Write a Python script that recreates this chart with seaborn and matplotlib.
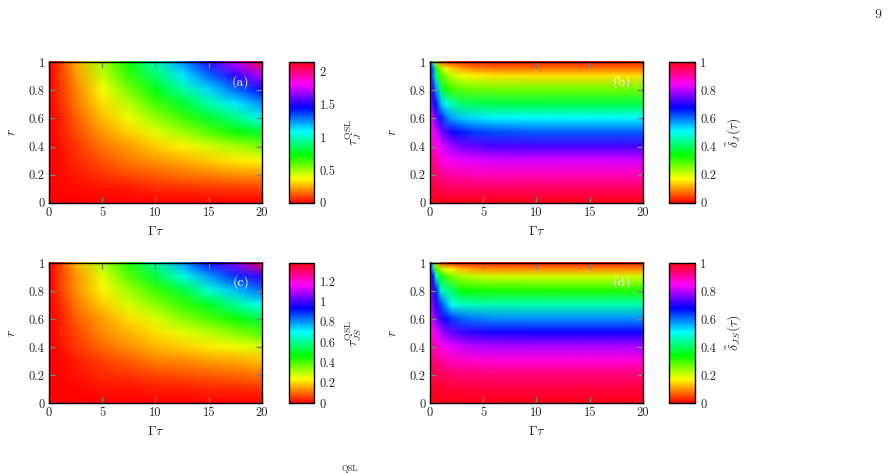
import numpy as np
import matplotlib
matplotlib.use('Agg')
import matplotlib.pyplot as plt
from matplotlib.image import NonUniformImage
import seaborn as sns

sns.set_theme(style='ticks')
plt.rcParams['font.family'] = ['cmr10', 'DejaVu Serif']
plt.rcParams['mathtext.fontset'] = 'cm'
plt.rcParams['axes.formatter.use_mathtext'] = True

# grids (Gamma*tau along x, r along y)
gt_ac = [0, 1, 2.5, 5, 7.5, 10, 12.5, 15, 17.5, 20]
r_ac = [0, 0.1, 0.2, 0.3, 0.4, 0.5, 0.6, 0.7, 0.8, 0.9, 1.0]

# panel (a): tau_J^QSL, rows = r from 0 to 1
tau_J = [
    [0, 0.00, 0.00, 0.00, 0.00, 0.00, 0.00, 0.00, 0.00, 0.00],
    [0, 0.01, 0.02, 0.03, 0.04, 0.06, 0.07, 0.08, 0.09, 0.10],
    [0, 0.02, 0.04, 0.08, 0.11, 0.14, 0.17, 0.19, 0.21, 0.22],
    [0, 0.02, 0.06, 0.12, 0.18, 0.22, 0.26, 0.30, 0.34, 0.37],
    [0, 0.03, 0.08, 0.17, 0.23, 0.30, 0.36, 0.43, 0.49, 0.56],
    [0, 0.05, 0.11, 0.22, 0.31, 0.41, 0.51, 0.61, 0.72, 0.80],
    [0, 0.05, 0.14, 0.27, 0.39, 0.52, 0.64, 0.79, 0.92, 1.08],
    [0, 0.07, 0.17, 0.32, 0.47, 0.63, 0.79, 0.97, 1.12, 1.25],
    [0, 0.08, 0.19, 0.38, 0.56, 0.75, 0.96, 1.15, 1.31, 1.46],
    [0, 0.09, 0.22, 0.45, 0.66, 0.89, 1.12, 1.31, 1.52, 1.72],
    [0, 0.10, 0.25, 0.49, 0.74, 1.00, 1.25, 1.51, 1.76, 2.10],
]

# panel (c): tau_JS^QSL
tau_JS = [
    [0, 0.00, 0.00, 0.00, 0.00, 0.00, 0.00, 0.00, 0.00, 0.00],
    [0, 0.00, 0.01, 0.02, 0.02, 0.03, 0.03, 0.04, 0.04, 0.05],
    [0, 0.01, 0.02, 0.04, 0.05, 0.07, 0.08, 0.09, 0.10, 0.11],
    [0, 0.01, 0.03, 0.06, 0.09, 0.12, 0.13, 0.15, 0.16, 0.18],
    [0, 0.02, 0.05, 0.10, 0.14, 0.17, 0.19, 0.22, 0.25, 0.27],
    [0, 0.03, 0.07, 0.13, 0.17, 0.21, 0.26, 0.30, 0.35, 0.40],
    [0, 0.03, 0.09, 0.15, 0.21, 0.27, 0.34, 0.40, 0.46, 0.54],
    [0, 0.04, 0.11, 0.19, 0.27, 0.34, 0.42, 0.50, 0.61, 0.70],
    [0, 0.06, 0.13, 0.23, 0.32, 0.41, 0.52, 0.66, 0.76, 0.84],
    [0, 0.06, 0.14, 0.26, 0.39, 0.52, 0.67, 0.79, 0.89, 0.99],
    [0, 0.06, 0.17, 0.31, 0.45, 0.63, 0.79, 0.94, 1.07, 1.33],
]

gt_bd = [0, 0.25, 0.5, 1, 1.5, 2, 3, 4, 6, 10, 20]
r_bd = [0, 0.1, 0.2, 0.3, 0.4, 0.5, 0.6, 0.7, 0.8, 0.9, 0.95, 1.0]

# panel (b): delta_J(tau)
delta_J = [
    [1.00, 1.00, 1.00, 1.00, 1.00, 1.00, 1.00, 1.00, 1.00, 1.00, 1.00],
    [0.98, 0.98, 0.97, 0.96, 0.955, 0.95, 0.95, 0.95, 0.95, 0.95, 0.95],
    [0.96, 0.95, 0.94, 0.92, 0.91, 0.90, 0.895, 0.89, 0.89, 0.89, 0.89],
    [0.93, 0.92, 0.90, 0.87, 0.85, 0.84, 0.83, 0.825, 0.82, 0.82, 0.82],
    [0.90, 0.88, 0.86, 0.83, 0.80, 0.78, 0.75, 0.74, 0.725, 0.72, 0.72],
    [0.87, 0.85, 0.82, 0.76, 0.72, 0.69, 0.66, 0.64, 0.625, 0.615, 0.615],
    [0.83, 0.80, 0.74, 0.66, 0.60, 0.57, 0.54, 0.53, 0.515, 0.51, 0.51],
    [0.79, 0.72, 0.67, 0.55, 0.49, 0.45, 0.41, 0.395, 0.387, 0.385, 0.385],
    [0.76, 0.70, 0.58, 0.42, 0.325, 0.30, 0.28, 0.27, 0.267, 0.267, 0.267],
    [0.74, 0.60, 0.42, 0.30, 0.24, 0.21, 0.18, 0.167, 0.155, 0.15, 0.15],
    [0.73, 0.60, 0.35, 0.22, 0.17, 0.14, 0.11, 0.09, 0.08, 0.08, 0.08],
    [0.72, 0.50, 0.16, 0.07, 0.05, 0.04, 0.03, 0.02, 0.02, 0.02, 0.02],
]

# panel (d): delta_JS(tau)
delta_JS = [
    [1.00, 1.00, 1.00, 1.00, 1.00, 1.00, 1.00, 1.00, 1.00, 1.00, 1.00],
    [0.99, 0.99, 0.985, 0.98, 0.98, 0.975, 0.975, 0.97, 0.97, 0.97, 0.97],
    [0.97, 0.965, 0.96, 0.955, 0.95, 0.945, 0.94, 0.94, 0.935, 0.935, 0.935],
    [0.94, 0.935, 0.925, 0.91, 0.90, 0.89, 0.88, 0.875, 0.87, 0.87, 0.87],
    [0.91, 0.90, 0.88, 0.86, 0.84, 0.825, 0.81, 0.80, 0.795, 0.79, 0.79],
    [0.88, 0.86, 0.83, 0.79, 0.76, 0.74, 0.715, 0.705, 0.695, 0.69, 0.69],
    [0.85, 0.80, 0.76, 0.71, 0.67, 0.64, 0.61, 0.595, 0.585, 0.58, 0.58],
    [0.80, 0.76, 0.71, 0.63, 0.56, 0.495, 0.47, 0.46, 0.455, 0.45, 0.45],
    [0.78, 0.72, 0.67, 0.48, 0.44, 0.40, 0.335, 0.328, 0.322, 0.32, 0.32],
    [0.76, 0.67, 0.46, 0.36, 0.29, 0.26, 0.23, 0.215, 0.20, 0.20, 0.20],
    [0.74, 0.55, 0.31, 0.22, 0.19, 0.167, 0.13, 0.11, 0.10, 0.10, 0.10],
    [0.72, 0.45, 0.15, 0.06, 0.04, 0.03, 0.02, 0.02, 0.02, 0.02, 0.02],
]

x_ticks = [0, 5, 10, 15, 20]
y_ticks = [0, 0.2, 0.4, 0.6, 0.8, 1]
y_ticklabels = ['0', '0.2', '0.4', '0.6', '0.8', '1']

cmap = sns.color_palette('hsv', as_cmap=True)
tick_col = '#808080'

panels = [
    # x grid, r grid, values, vmax, cbar ticks, cbar labels, cbar title, tag, axes rect, cbar x
    (gt_ac, r_ac, tau_J, 2.15, [0, 0.5, 1, 1.5, 2], ['0', '0.5', '1', '1.5', '2'],
     r'$\tau_J^{\rm QSL}$', '(a)', [0.0547, 0.571, 0.238, 0.298], 0.3229),
    (gt_bd, r_bd, delta_J, 1.0, [0, 0.2, 0.4, 0.6, 0.8, 1], ['0', '0.2', '0.4', '0.6', '0.8', '1'],
     r'$\tilde{\delta}_J(\tau)$', '(b)', [0.4804, 0.571, 0.238, 0.298], 0.7480),
    (gt_ac, r_ac, tau_JS, 1.38, [0, 0.2, 0.4, 0.6, 0.8, 1, 1.2], ['0', '0.2', '0.4', '0.6', '0.8', '1', '1.2'],
     r'$\tau_{JS}^{\rm QSL}$', '(c)', [0.0547, 0.148, 0.238, 0.296], 0.3229),
    (gt_bd, r_bd, delta_JS, 1.0, [0, 0.2, 0.4, 0.6, 0.8, 1], ['0', '0.2', '0.4', '0.6', '0.8', '1'],
     r'$\tilde{\delta}_{JS}(\tau)$', '(d)', [0.4804, 0.148, 0.238, 0.296], 0.7480),
]

fig = plt.figure(figsize=(8.95, 4.73), dpi=100)

for gx, gr, vals, vmax, cticks, clabels, clab, tag, rect, cx in panels:
    ax = fig.add_axes(rect)
    im = NonUniformImage(ax, interpolation='bilinear', extent=(0, 20, 0, 1), cmap=cmap)
    im.set_data(np.array(gx, dtype=float), np.array(gr, dtype=float), np.array(vals, dtype=float))
    im.set_clim(0, vmax)
    ax.add_image(im)
    ax.set_xlim(0, 20)
    ax.set_ylim(0, 1)
    ax.set_xticks(x_ticks)
    ax.set_xticklabels([str(t) for t in x_ticks])
    ax.set_yticks(y_ticks)
    ax.set_yticklabels(y_ticklabels)
    ax.tick_params(direction='in', top=True, right=True, color=tick_col,
                   length=4, width=1, labelsize=9, pad=3)
    for sp in ax.spines.values():
        sp.set_color('black')
        sp.set_linewidth(1)
    ax.set_xlabel(r'$\Gamma\tau$', fontsize=10, labelpad=4)
    ax.set_ylabel(r'$r$', fontsize=10, labelpad=8)
    ax.text(18.0, 0.86, tag, color='white', fontsize=10, ha='center', va='center')

    cax = fig.add_axes([cx, rect[1], 0.028, rect[3]])
    cb = fig.colorbar(im, cax=cax)
    cb.set_ticks(cticks)
    cb.set_ticklabels(clabels)
    cax.tick_params(direction='in', left=True, right=True, color=tick_col,
                    length=4, width=1, labelsize=9, pad=4)
    cb.outline.set_color('black')
    cb.outline.set_linewidth(1)
    cb.set_label(clab, fontsize=10, labelpad=6)

fig.text(0.981, 0.968, '9', fontsize=10, ha='center', va='center')
fig.text(0.391, 0.001, 'QSL', fontsize=6, ha='center', va='bottom')

fig.savefig('out.png', dpi=100)
